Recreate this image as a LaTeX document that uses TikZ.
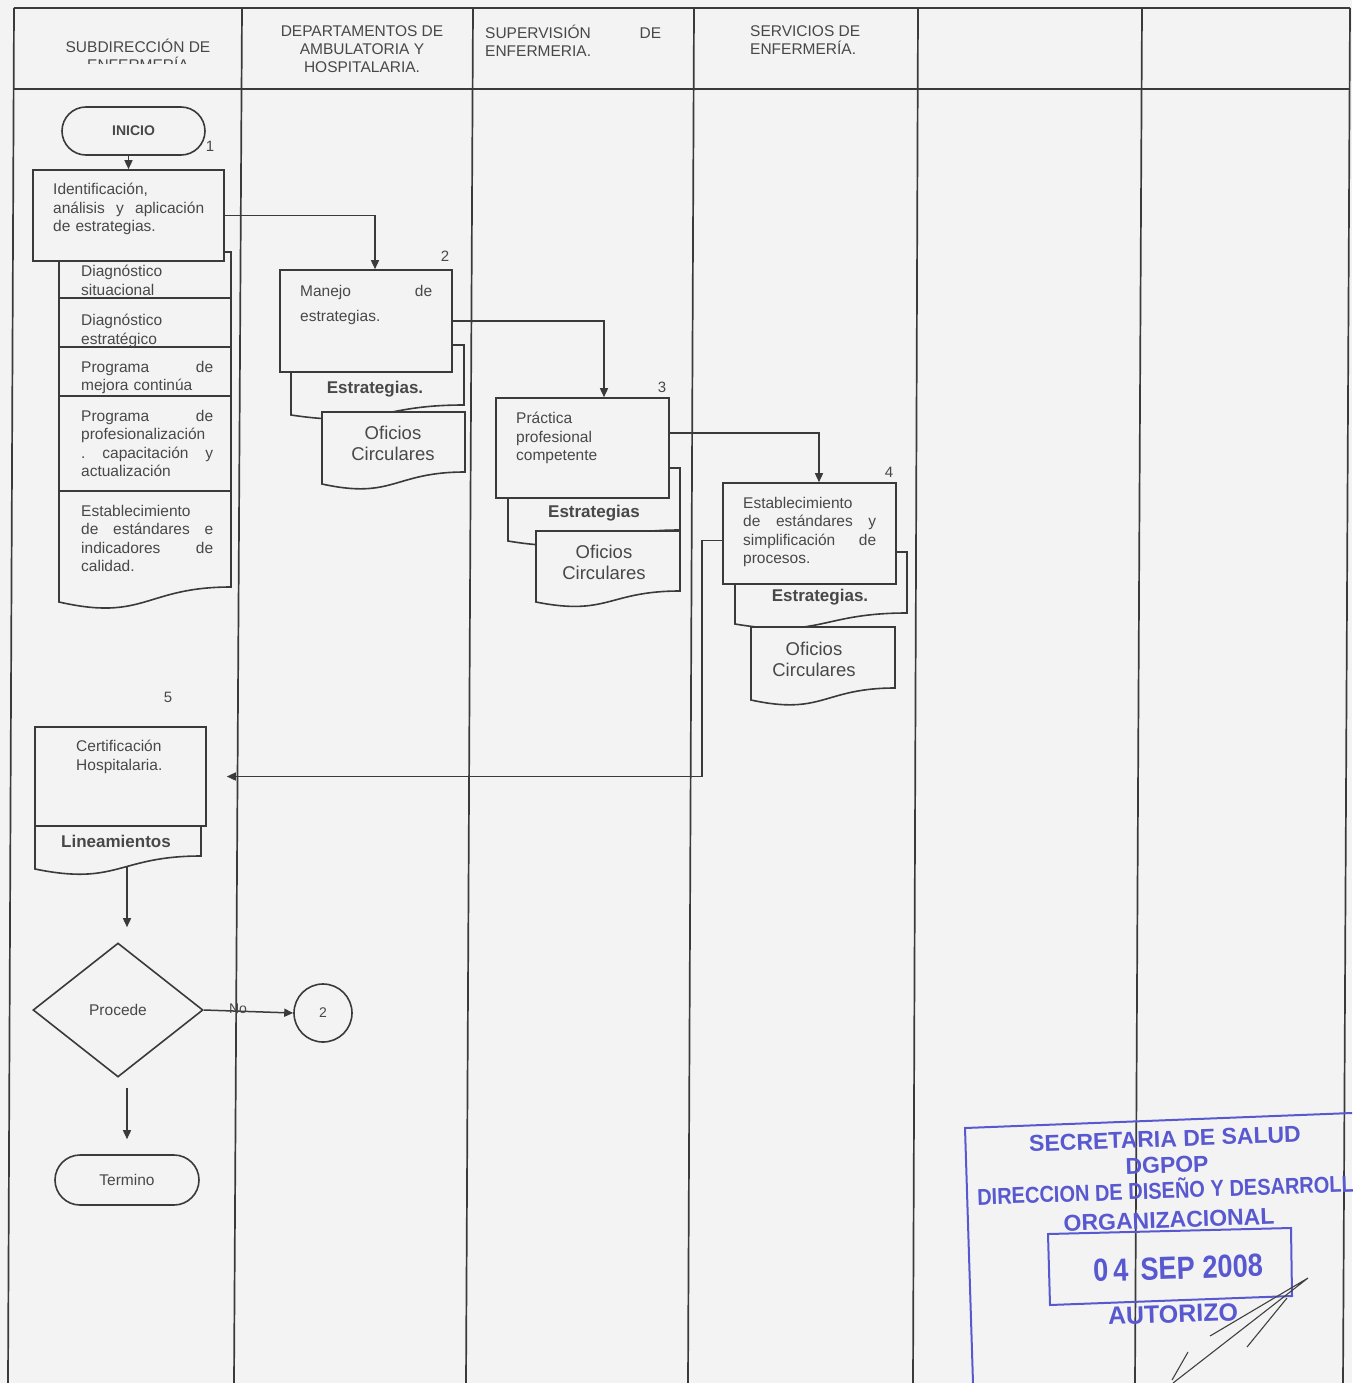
\documentclass[tikz,border=0pt]{standalone}
\usepackage{fontspec}
\setmainfont{Liberation Sans}
\usetikzlibrary{arrows.meta,shapes.geometric,calc}
\definecolor{bgc}{RGB}{243,243,243}
\definecolor{ln}{RGB}{58,58,58}
\definecolor{tx}{RGB}{72,72,72}
\definecolor{stampc}{RGB}{88,88,208}
\newcommand{\fsz}[2]{\fontsize{#1}{#2}\selectfont}
\newcommand{\docpath}[5]{\path[shapeline] (#1,#2) -- (#3,#2) -- (#3,#4) .. controls ({(#1+#3)/2},#4) and ({(#1+#3)/2},{#4+2.31*(#5-#4)}) .. (#1,#5) -- cycle;}
\tikzset{
 shapeline/.style={draw=ln,fill=bgc,line width=1.6pt},
 boxn/.style={shapeline,rectangle,inner sep=0pt},
 gridl/.style={draw=ln,line width=1.7pt},
 body/.style={text=tx,font=\fsz{15.5}{18.5},inner sep=0pt,anchor=north west,align=left},
 head/.style={text=tx,font=\fsz{15.5}{18},inner sep=0pt},
 numl/.style={text=tx,font=\fsz{15}{18},inner sep=0pt},
 docl/.style={text=tx,font=\fsz{17}{21}\bfseries,inner sep=0pt,anchor=base},
 ofic/.style={text=tx,font=\fsz{18.5}{21},inner sep=0pt,anchor=north,align=center},
 arr/.style={draw=ln,line width=1.5pt,-{Triangle[length=9pt,width=8pt]}},
 stampl/.style={draw=stampc,line width=2pt},
 stampt/.style={text=stampc,font=\fsz{23}{26}\bfseries,inner sep=0pt,rotate=2},
 sig/.style={draw=black!75,line width=1.1pt},
}
\begin{document}
\begin{tikzpicture}[x=1pt,y=-1pt]
\useasboundingbox (0,0) rectangle (1352,1383);
\fill[bgc] (0,0) rectangle (1352,1383);
% table
\draw[gridl] (14,8) -- (1350,8);
\draw[gridl] (14,89) -- (1350,89);
\draw[gridl] (14,8) -- (8,1383);
\draw[gridl] (242,8) -- (234,1383);
\draw[gridl] (473,8) -- (466,1383);
\draw[gridl] (694,8) -- (688,1383);
\draw[gridl] (918,8) -- (913,1383);
\draw[gridl] (1142,8) -- (1135,1383);
\draw[gridl] (1350,8) -- (1343,1383);
% headers
\begin{scope}
\clip (14,8) rectangle (242,64);
\node[head,anchor=north,align=center] (h1) at (138,39) {SUBDIRECCIÓN DE\\ENFERMERÍA};
\end{scope}
\node[head,anchor=north,align=center] (h2) at (362,25) {DEPARTAMENTOS DE\\AMBULATORIA Y\\HOSPITALARIA.};
\node[head,anchor=north west,align=left,text width=176pt] (h3) at (485,25) {SUPERVISIÓN\hfill DE\\ENFERMERIA.};
\node[head,anchor=north west,align=left] (h4) at (750,25) {SERVICIOS DE\\ENFERMERÍA.};
% column 1 top
\node[shapeline,rectangle,rounded corners=24pt,minimum width=143pt,minimum height=48pt,inner sep=0pt,text=tx,font=\fsz{14}{16}\bfseries] (INI) at (133.5,131) {INICIO};
\node[numl] (n1) at (210,146) {1};
\docpath{59}{252}{231}{587}{602}
\draw[draw=ln,line width=1.6pt] (59,298) -- (231,298);
\draw[draw=ln,line width=1.6pt] (59,347) -- (231,347);
\draw[draw=ln,line width=1.6pt] (59,396) -- (231,396);
\draw[draw=ln,line width=1.6pt] (59,491) -- (231,491);
\node[boxn,minimum width=191pt,minimum height=91pt] (A) at (128.5,215.5) {};
\node[body,text width=151pt] (At) at (53,183) {Identificación,\\análisis\hfill y\hfill aplicación\\de estrategias.};
\node[body,text width=132pt] (c1) at (81,265) {Diagnóstico\\situacional};
\node[body,text width=132pt] (c2) at (81,314) {Diagnóstico\\estratégico};
\node[body,text width=132pt] (c3) at (81,361) {Programa\hfill de\\mejora continúa};
\node[body,text width=132pt] (c4) at (81,410) {Programa\hfill de\\profesionalización\\.\hfill capacitación\hfill y\\actualización};
\node[body,text width=132pt] (c5) at (81,505) {Establecimiento\\de\hfill estándares\hfill e\\indicadores\hfill de\\calidad.};
% column 2
\docpath{291}{345}{464}{405}{415}
\docpath{322}{412}{465}{472}{484}
\node[boxn,minimum width=172pt,minimum height=102pt] (B) at (366,321) {};
\node[body,text width=132pt,font=\fsz{15.5}{25}] (Bt) at (300,285) {Manejo\hfill de\\estrategias.};
\node[numl] (n2) at (445,256) {2};
\node[docl] (e2) at (375,393) {Estrategias.};
\node[ofic] (o2) at (393,426) {Oficios\\Circulares};
% column 3
\docpath{508}{468}{680}{530}{541}
\docpath{536}{531}{680}{591}{602}
\node[boxn,minimum width=173pt,minimum height=100pt] (C) at (582.5,448) {};
\node[body,text width=140pt] (Ct) at (516,412) {Práctica\\profesional\\competente};
\node[numl] (n3) at (662,387) {3};
\node[docl] (e3) at (594,517) {Estrategias};
\node[ofic] (o3) at (604,545) {Oficios\\Circulares};
% column 4
\docpath{735}{552}{907}{613}{624}
\docpath{751}{627}{895}{688}{700}
\node[boxn,minimum width=173pt,minimum height=101pt] (D) at (809.5,533.5) {};
\node[body,text width=133pt] (Dt) at (743,497) {Establecimiento\\de\hfill estándares\hfill y\\simplificación\hfill de\\procesos.};
\node[numl] (n4) at (889,472) {4};
\node[docl] (e4) at (820,601) {Estrategias.};
\node[ofic] (o4) at (814,642) {Oficios\\Circulares};
% column 1 bottom
\node[numl] (n5) at (168,697) {5};
\docpath{35}{826}{201}{856}{869}
\node[boxn,minimum width=171pt,minimum height=99pt] (E) at (120.5,776.5) {};
\node[body,text width=120pt] (Et) at (76,740) {Certificación\\Hospitalaria.};
\node[docl] (l5) at (116,847) {Lineamientos};
\coordinate (LB) at (127,866);
\node[shapeline,diamond,minimum width=170pt,minimum height=134pt,inner sep=0pt,text=tx,font=\fsz{15.5}{18}] (P) at (118,1010) {Procede};
\node[shapeline,circle,minimum size=58pt,inner sep=0pt,text=tx,font=\fsz{14}{16}] (C2) at (323,1013) {2};
\node[shapeline,rectangle,rounded corners=25pt,minimum width=144pt,minimum height=50pt,inner sep=0pt,text=tx,font=\fsz{15.5}{18}] (T) at (127,1180) {Termino};
% connectors
\draw[arr] (INI.south -| A.north) -- (A.north);
\draw[arr] (A.east) -| ($(B.north)+(9,0)$);
\draw[arr] (B.east) -| ($(C.north)+(21.5,0)$);
\draw[arr] ($(C.east)+(0,-15)$) -| ($(D.north)+(9.5,0)$);
\draw[arr,shorten >=20pt] ($(D.west)+(0,7)$) -- ++(-20,0) |- (E.east);
\draw[arr,shorten >=15pt] (LB) -- (LB |- P.north);
\draw[arr,shorten <=10pt,shorten >=15pt] (P.south -| T.north) -- (T.north);
\draw[arr] (P.east) -- (C2.west);
\node[text=tx,font=\fsz{14}{16},inner sep=0pt] (no) at (238,1009) {No};
% stamp
\draw[stampl] (1352,1113) -- (965,1128) -- (973,1383);
\draw[stampl] (1048,1234) -- (1291,1228) -- (1292,1296) -- (1050,1305) -- cycle;
\node[stampt] (s1) at (1165,1139) {SECRETARIA DE SALUD};
\node[stampt] (s2) at (1167,1165) {DGPOP};
\node[stampt,xscale=0.87,anchor=west] (s3) at (977,1195) {DIRECCION DE DISEÑO Y DESARROLLO};
\node[stampt] (s4) at (1169,1220) {ORGANIZACIONAL};
\node[stampt,font=\fsz{32}{34}\bfseries,xscale=0.85] (s5) at (1178,1268) {0\hspace{6pt}4\hspace{14pt}SEP\hspace{9pt}2008};
\node[stampt,font=\fsz{25}{28}\bfseries] (s6) at (1173,1314) {AUTORIZO};
% signature
\draw[sig] (1210,1336) -- (1308,1278) -- (1173,1383);
\draw[sig] (1247,1347) -- (1287,1298);
\draw[sig] (1188,1352) -- (1172,1380);
\end{tikzpicture}
\end{document}
